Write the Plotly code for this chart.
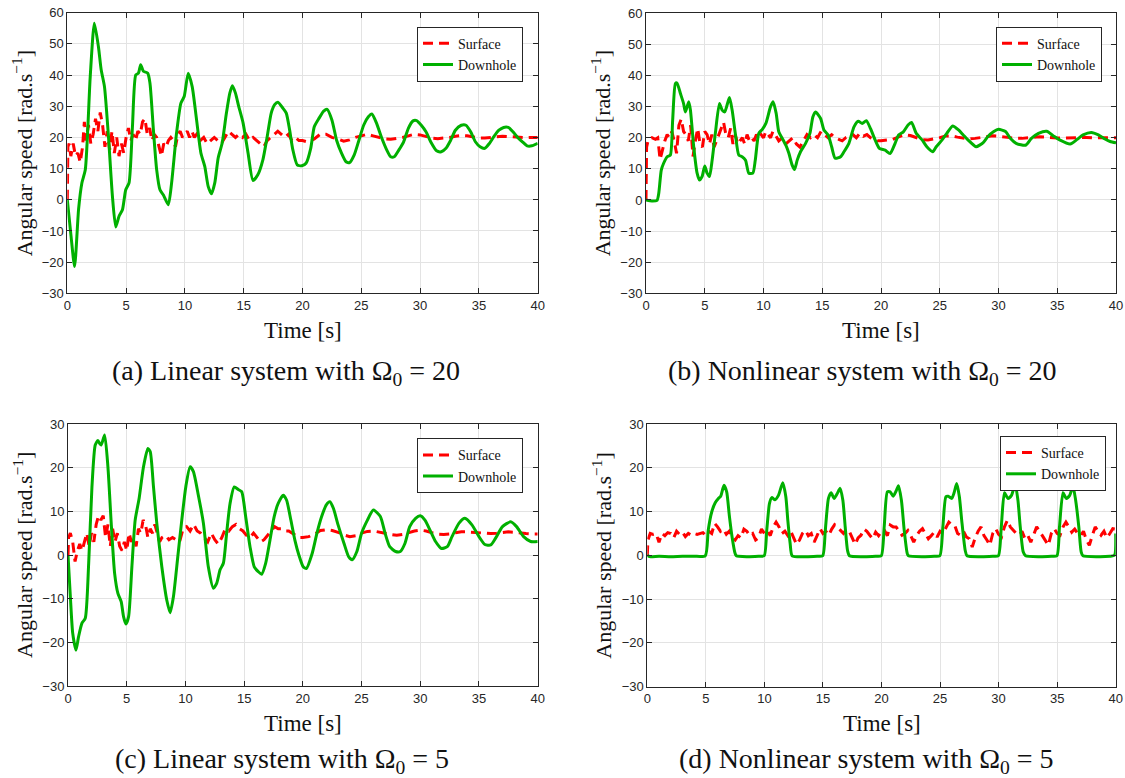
import plotly.graph_objects as go

# ---------------- data (time [s], angular speed [rad/s]) ----------------
a_surface = [(0, 0), (0.05, 17), (0.15, 18), (0.3, 14), (0.5, 18), (0.7, 14), (0.9, 15), (1.1, 12), (1.3, 17),
             (1.45, 25), (1.6, 19), (1.8, 24), (2.0, 18), (2.2, 21), (2.4, 26), (2.6, 22), (2.8, 28), (3.0, 24),
             (3.2, 17), (3.4, 22), (3.6, 16), (3.8, 22), (4.0, 15), (4.2, 20), (4.4, 14), (4.6, 18), (4.8, 15),
             (5.0, 20), (5.2, 23), (5.4, 19), (5.6, 21), (5.8, 19), (6.0, 22), (6.2, 21), (6.4, 25), (6.6, 26),
             (6.8, 21), (7.0, 23), (7.2, 19), (7.4, 21), (7.6, 20), (7.8, 17), (8.0, 14), (8.2, 18), (8.4, 17),
             (8.6, 19), (8.8, 20), (9.0, 19), (9.2, 17), (9.4, 21), (9.6, 22), (9.8, 20), (10.0, 21), (10.2, 22),
             (10.4, 20), (10.6, 22), (10.8, 20), (11.0, 21), (11.3, 19), (11.6, 20), (11.9, 18), (12.2, 19),
             (12.5, 20), (12.8, 19), (13.1, 18), (13.4, 20), (13.7, 22), (14.0, 21), (14.3, 20), (14.6, 21),
             (14.9, 20), (15.2, 21), (15.5, 19), (15.8, 20), (16.1, 19), (16.4, 18), (16.7, 17), (17.0, 19),
             (17.3, 20), (17.6, 21), (17.9, 22), (18.2, 21), (18.5, 20), (18.8, 21), (19.1, 19), (19.4, 20),
             (19.7, 19), (20.0, 19), (20.5, 18.5), (21, 19.5), (21.5, 21), (22, 21), (22.5, 20), (23, 19.5),
             (23.5, 18.8), (24, 19.2), (24.5, 20), (25, 20.5), (25.5, 21), (26, 20.5), (26.5, 20), (27, 19.5),
             (27.5, 19.4), (28, 19.6), (28.5, 20), (29, 20.5), (29.5, 21), (30, 20.8), (30.5, 20.3), (31, 19.8),
             (31.5, 19.6), (32, 19.7), (32.5, 20), (33, 20.4), (33.5, 20.6), (34, 20.5), (34.5, 20.1), (35, 19.8),
             (35.5, 19.8), (36, 19.9), (36.5, 20.2), (37, 20.4), (37.5, 20.3), (38, 20.1), (38.5, 19.9), (39, 19.9),
             (39.5, 20), (40, 20)]

a_downhole = [(0, 0), (0.3, -11), (0.62, -21.4), (0.96, -3), (1.24, 5.4), (1.53, 9.6), (1.95, 39.5), (2.3, 56.6),
              (2.65, 49), (2.88, 41.7), (3.16, 36.3), (3.5, 20.3), (3.84, 1), (4.12, -8.7), (4.4, -5.3),
              (4.69, -3.2), (4.97, 3.2), (5.25, 5.4), (5.54, 23.5), (5.82, 40), (6.05, 40.6), (6.24, 43.3),
              (6.47, 41.2), (6.84, 40.6), (7.03, 37.4), (7.32, 22.5), (7.6, 9.6), (7.88, 3.2), (8.16, 1.6),
              (8.59, -1.6), (8.87, 5.4), (9.29, 21.4), (9.66, 31), (9.94, 33.1), (10.28, 40.6), (10.62, 36.3),
              (10.99, 25.7), (11.36, 15), (11.69, 10.7), (11.98, 4.3), (12.26, 1.9), (12.54, 5.4), (12.83, 13.4),
              (13.17, 18.2), (13.53, 27.8), (13.82, 34.2), (14.04, 36.6), (14.3, 34.2), (14.58, 29.9),
              (14.95, 24.6), (15.37, 15), (15.79, 6.2), (16.2, 8), (16.63, 12.8), (17.0, 20.3), (17.34, 27.8),
              (17.63, 30.5), (17.91, 31.3), (18.33, 29.4), (18.62, 27.8), (18.9, 22.5), (19.18, 16), (19.55, 11.2),
              (19.94, 10.9), (20.3, 11.7), (20.7, 16.5), (21.0, 23.4), (21.4, 26.1), (21.8, 28.4), (22.1, 29),
              (22.5, 25.6), (22.9, 19.1), (23.3, 15.1), (23.7, 12.2), (24.0, 11.9), (24.4, 14.4), (24.8, 19.1),
              (25.2, 23.9), (25.6, 26.6), (25.9, 27.5), (26.3, 24.5), (26.7, 20.2), (27.1, 16.5), (27.5, 13.8),
              (27.8, 13.8), (28.2, 16), (28.6, 18.6), (29.0, 22.9), (29.4, 25.3), (29.7, 25.4), (30.1, 23.9),
              (30.5, 21.8), (30.9, 18.6), (31.4, 15.7), (31.8, 15.4), (32.2, 16.5), (32.6, 19.1), (33.0, 22.3),
              (33.5, 23.9), (33.9, 23.9), (34.3, 21.8), (34.7, 18.6), (35.1, 17), (35.5, 16.5), (35.9, 18.1),
              (36.3, 20.4), (36.7, 22.3), (37.1, 23.2), (37.5, 23.2), (37.9, 21.8), (38.3, 20), (38.7, 18.6),
              (39.1, 17.3), (39.5, 17.3), (40, 18.1)]

b_surface = [(0, 0), (0.05, 17), (0.2, 19.5), (0.5, 20), (0.8, 19.5), (1.0, 20), (1.2, 13), (1.4, 16), (1.6, 19),
             (1.8, 21), (2.0, 20), (2.2, 22), (2.4, 19), (2.6, 15), (2.8, 24), (3.0, 26), (3.2, 22), (3.4, 21),
             (3.6, 19), (3.8, 24), (4.0, 14), (4.2, 19), (4.4, 23), (4.6, 18), (4.8, 17), (5.0, 22), (5.2, 21),
             (5.4, 18), (5.6, 21), (5.8, 17), (6.0, 19), (6.2, 21), (6.4, 23), (6.6, 25), (6.8, 21), (7.0, 20),
             (7.2, 23), (7.4, 18), (7.6, 21), (7.8, 18), (8.0, 19), (8.2, 20), (8.4, 18), (8.6, 21), (8.8, 19),
             (9.0, 20), (9.2, 19), (9.4, 21), (9.6, 20), (9.8, 21), (10.0, 20), (10.2, 22), (10.4, 21), (10.6, 20),
             (10.8, 22), (11.0, 21), (11.3, 19), (11.6, 20), (11.9, 18), (12.2, 19), (12.5, 20), (12.8, 18),
             (13.1, 17), (13.4, 19), (13.7, 21), (14.0, 20), (14.3, 21), (14.6, 20), (14.9, 22), (15.2, 21),
             (15.5, 20), (15.8, 21), (16.1, 20), (16.4, 19.5), (16.7, 19), (17.0, 20), (17.3, 20.5), (17.6, 21),
             (17.9, 20), (18.2, 21.5), (18.5, 20.5), (18.8, 21), (19.1, 20), (19.4, 19.5), (19.7, 19), (20.0, 19),
             (20.5, 19.2), (21, 19.5), (21.5, 20.3), (22, 21), (22.5, 20.7), (23, 20), (23.5, 19.4), (24, 19.3),
             (24.5, 19.6), (25, 20), (25.5, 20.6), (26, 20.6), (26.5, 20.2), (27, 19.8), (27.5, 19.6), (28, 19.8),
             (28.5, 20), (29, 20.3), (29.5, 20.6), (30, 20.5), (30.5, 20.2), (31, 19.9), (31.5, 19.8), (32, 19.8),
             (32.5, 20), (33, 20.2), (33.5, 20.3), (34, 20.2), (34.5, 20), (35, 19.9), (35.5, 19.9), (36, 20),
             (36.5, 20.1), (37, 20.1), (37.5, 20.1), (38, 20), (38.5, 20), (39, 20), (39.5, 20), (40, 20)]

b_downhole = [(0, 0), (0.5, -0.3), (0.94, -0.1), (1.08, 2), (1.3, 9.6), (1.5, 11.8), (1.8, 13.9), (2.07, 14.4),
              (2.27, 25.7), (2.5, 37.4), (2.64, 37.6), (2.93, 34.2), (3.2, 31), (3.35, 28.3), (3.64, 31.6),
              (3.78, 28.9), (4.06, 17.1), (4.35, 8.6), (4.55, 6.4), (4.77, 7.5), (5.0, 10.9), (5.2, 8.6),
              (5.4, 7.5), (5.63, 12.8), (5.9, 21.4), (6.25, 31), (6.48, 28.9), (6.7, 28.3), (7.1, 32.9),
              (7.33, 28.9), (7.6, 21.4), (7.9, 14.4), (8.18, 13.9), (8.47, 12.8), (8.75, 8.6), (9.09, 8.6),
              (9.3, 12.8), (9.6, 21.4), (9.9, 22.7), (10.2, 24.6), (10.6, 30), (10.82, 31.6), (11.08, 27.8),
              (11.3, 21.9), (11.6, 19.8), (11.9, 17.6), (12.16, 15), (12.44, 11.2), (12.64, 9.8), (12.87, 12.8),
              (13.15, 15.5), (13.58, 18.2), (13.95, 21.4), (14.2, 26.7), (14.43, 28.3), (14.86, 26.2),
              (15.14, 22.5), (15.5, 20.9), (15.8, 17.1), (16.1, 13.4), (16.56, 13.9), (16.85, 15.5),
              (17.27, 18.2), (17.7, 23.5), (18.07, 25.3), (18.4, 24.6), (18.75, 25.5), (19.1, 23), (19.5, 19.3),
              (19.86, 16.6), (20.35, 16), (20.77, 14.9), (21.2, 18.2), (21.5, 20.9), (21.9, 21.9), (22.3, 24.1),
              (22.6, 24.9), (23.0, 21.4), (23.5, 19.3), (23.9, 17.1), (24.4, 15.5), (24.7, 17.1), (25.2, 19.3),
              (25.6, 21.4), (26.1, 23.8), (26.6, 22.5), (27.0, 20.9), (27.4, 19.3), (27.9, 17.6), (28.1, 17.1),
              (28.7, 18.4), (29.1, 20.4), (29.6, 22), (30.0, 22.7), (30.6, 22), (31.0, 19.8), (31.5, 18.2),
              (32.3, 17.6), (32.8, 19.8), (33.4, 21.4), (34.1, 22.1), (34.7, 20.5), (35.2, 19.3), (36.1, 18),
              (36.7, 19.5), (37.2, 20.9), (37.9, 21.7), (38.5, 20.9), (39.1, 19.5), (39.5, 18.8), (40, 18.4)]

c_surface = [(0, 0), (0.05, 4), (0.2, 5), (0.4, 3), (0.6, -1.5), (0.8, 1), (1.0, 2.5), (1.2, 1), (1.4, 3),
             (1.6, 5), (1.8, 2), (2.0, 5), (2.2, 3), (2.4, 7), (2.6, 9), (2.8, 8), (3.0, 9), (3.2, 4), (3.4, 7),
             (3.6, 2), (3.8, 6), (4.0, 3), (4.2, 5), (4.4, 2), (4.6, 1), (4.8, 3), (5.0, 1), (5.2, 5), (5.4, 3),
             (5.6, 4), (5.8, 2), (6.0, 6), (6.2, 5), (6.4, 8), (6.6, 7), (6.8, 4), (7.0, 6), (7.2, 5), (7.4, 7),
             (7.6, 5), (7.8, 3), (8.0, 4), (8.3, 4.5), (8.6, 3.5), (8.9, 4), (9.2, 3.5), (9.5, 3), (9.8, 6),
             (10.1, 6.5), (10.4, 5.5), (10.7, 7), (11.0, 5.5), (11.3, 5), (11.6, 4), (11.9, 3), (12.2, 5),
             (12.5, 3.5), (12.8, 2.5), (13.1, 4), (13.4, 6), (13.7, 5.5), (14.0, 6.5), (14.3, 7), (14.6, 6),
             (14.9, 5.5), (15.2, 4.5), (15.5, 4), (15.8, 5), (16.1, 4), (16.4, 3), (16.7, 3.5), (17.0, 4.5),
             (17.3, 5.5), (17.6, 6.5), (17.9, 6), (18.2, 6), (18.5, 5.5), (18.8, 5.5), (19.1, 5), (19.4, 4.5),
             (19.7, 4), (20, 4), (20.5, 4.2), (21, 4.8), (21.5, 5.6), (22, 5.8), (22.5, 5.6), (23, 5.2), (23.5, 4.6),
             (24, 4.2), (24.5, 4.4), (25, 5), (25.5, 5.4), (26, 5.5), (26.5, 5.3), (27, 5), (27.5, 4.7), (28, 4.5),
             (28.5, 4.7), (29, 5.1), (29.5, 5.5), (30, 5.7), (30.5, 5.5), (31, 5.1), (31.5, 4.8), (32, 4.7),
             (32.5, 4.8), (33, 5.1), (33.5, 5.3), (34, 5.3), (34.5, 5.2), (35, 5), (35.5, 4.9), (36, 4.9), (36.5, 5),
             (37, 5.2), (37.5, 5.3), (38, 5.2), (38.5, 5), (39, 4.9), (39.5, 4.8), (40, 4.8)]

c_downhole = [(0, 0), (0.2, -9.5), (0.4, -17.9), (0.68, -21.8), (0.9, -18.7), (1.19, -15.6), (1.47, -14.5),
              (1.76, -1.9), (2.04, 15.6), (2.32, 25.2), (2.55, 26.2), (2.7, 25.5), (2.83, 25.2), (3.12, 27.5),
              (3.4, 20.2), (3.68, 7.3), (3.97, -4.2), (4.25, -8.8), (4.53, -10.7), (4.73, -14.1), (4.93, -15.8),
              (5.16, -14.1), (5.44, -2.7), (5.72, 8), (6.06, 13), (6.43, 20.2), (6.8, 24.4), (7.0, 23.7),
              (7.28, 15.6), (7.56, 7.3), (7.99, -2.7), (8.41, -10.3), (8.7, -13.2), (8.98, -9.5), (9.35, -0.4),
              (9.69, 8), (10.03, 15.6), (10.4, 20.2), (10.68, 19.1), (11.1, 13.7), (11.53, 7.3), (11.95, -2.7),
              (12.38, -7.6), (12.66, -6.5), (12.95, -3.4), (13.23, -1.9), (13.51, 5), (13.8, 11.8), (14.16, 15.6),
              (14.5, 15), (14.79, 14.5), (15.13, 8.8), (15.5, 1.9), (15.86, -2.7), (16.2, -3.8), (16.49, -4.4),
              (16.83, -1.9), (17.2, 3.4), (17.56, 8.8), (17.9, 11.8), (18.33, 13.7), (18.61, 12.6), (18.98, 8),
              (19.32, 3.4), (19.66, 0), (20.03, -2.7), (20.3, -3.1), (20.8, 0.4), (21.2, 5), (21.6, 8.8),
              (22.0, 11.5), (22.3, 12.2), (22.6, 10.7), (23.0, 6.9), (23.5, 2.7), (23.9, -0.4), (24.2, -1.1),
              (24.6, 0.8), (25.0, 5), (25.5, 8), (26.0, 10.3), (26.6, 8.8), (27.0, 5), (27.4, 1.9), (27.9, 0.8),
              (28.3, 0.8), (28.7, 2.7), (29.1, 6.5), (29.6, 8.4), (30.0, 9), (30.4, 8), (30.9, 5.3), (31.3, 3.1),
              (31.8, 1.5), (32.3, 1.9), (32.7, 4.2), (33.3, 7.3), (33.8, 8.4), (34.4, 6.9), (35.0, 4.2),
              (35.5, 2.4), (36.0, 2.3), (36.4, 3.8), (37.0, 6.5), (37.7, 7.6), (38.2, 6.5), (38.8, 4.2),
              (39.4, 3.1), (40, 3.1)]

d_surface = [(0, 0), (0.05, 3.5), (0.25, 5), (0.5, 4.8), (0.75, 5), (1.0, 3), (1.25, 5), (1.5, 4.5), (1.75, 5.2),
             (2.0, 5), (2.25, 4), (2.5, 5.5), (2.75, 4.8), (3.0, 5.3), (3.25, 4.3), (3.5, 5), (3.75, 4.6), (4.0, 5),
             (4.25, 4.8), (4.5, 5), (4.75, 5.2), (5.0, 4.5), (5.25, 5.5), (5.5, 5), (5.75, 7.3), (6.0, 6.5),
             (6.25, 5.5), (6.5, 6), (6.75, 4.8), (7.0, 5.5), (7.25, 4), (7.5, 3.5), (7.75, 4.5), (8.0, 4), (8.25, 6),
             (8.5, 5.5), (8.75, 4.5), (9.0, 5), (9.25, 3.5), (9.5, 4), (9.75, 6), (10.0, 5), (10.25, 5.7),
             (10.5, 4.5), (10.75, 6.5), (11.0, 7.6), (11.25, 6.5), (11.5, 5), (11.75, 5.5), (12.0, 4.5),
             (12.25, 5.5), (12.5, 4), (12.75, 2.5), (13.0, 3.5), (13.25, 5), (13.5, 5.7), (13.75, 4.5), (14.0, 5),
             (14.25, 3), (14.5, 4.5), (14.75, 6.1), (15.0, 5), (15.25, 5.5), (15.5, 4.6), (15.75, 6), (16.0, 7),
             (16.25, 6.5), (16.5, 5.7), (16.75, 5), (17.0, 6), (17.25, 5.5), (17.5, 4), (17.75, 2.5), (18.0, 4),
             (18.25, 4.6), (18.5, 6), (18.75, 5.5), (19.0, 4.6), (19.25, 3.8), (19.5, 5.3), (19.75, 4.5),
             (20.0, 5.5), (20.25, 5.7), (20.5, 4.5), (20.75, 6.9), (21.0, 6.5), (21.25, 6.5), (21.5, 5.5),
             (21.75, 4.6), (22.0, 5), (22.25, 5.7), (22.5, 4.5), (22.75, 3), (23.0, 4.5), (23.25, 5.5), (23.5, 6.1),
             (23.75, 5), (24.0, 3.8), (24.25, 4.5), (24.5, 5.3), (24.75, 4.2), (25.0, 5.5), (25.25, 5), (25.5, 6.5),
             (25.75, 7.6), (26.0, 7), (26.25, 6.9), (26.5, 5), (26.75, 4.6), (27.0, 5.5), (27.25, 4.2), (27.5, 3.8),
             (27.75, 1.9), (28.0, 4), (28.25, 5.5), (28.5, 6.5), (28.75, 4.5), (29.0, 3.5), (29.25, 2.3), (29.5, 5),
             (29.75, 6.1), (30.0, 4.8), (30.25, 4.2), (30.5, 6.5), (30.75, 8), (31.0, 6.5), (31.25, 5.7), (31.5, 5),
             (31.75, 4.6), (32.0, 5.5), (32.25, 3.8), (32.5, 4.5), (32.75, 3), (33.0, 5), (33.25, 6.5), (33.5, 5.5),
             (33.75, 4.5), (34.0, 3.5), (34.25, 2.3), (34.5, 5), (34.75, 6.1), (35.0, 5), (35.25, 4.6), (35.5, 6.5),
             (35.75, 7.6), (36.0, 6.5), (36.25, 5.3), (36.5, 6), (36.75, 5), (37.0, 4.5), (37.25, 5.5), (37.5, 3.5),
             (37.75, 2.3), (38.0, 4.5), (38.25, 6.5), (38.5, 5.5), (38.75, 4.6), (39.0, 5.5), (39.25, 4), (39.5, 5),
             (39.75, 6.1), (40.0, 6)]

d_downhole = [(0, 0), (0.2, -0.3), (1, -0.2), (2, -0.3), (3, -0.2), (4, -0.2), (4.95, -0.1), (5.2, 5.7), (5.5, 9.9),
              (5.8, 12), (6.07, 13), (6.27, 13.5), (6.55, 16), (6.78, 14.5), (7.0, 9.2), (7.24, 4.2), (7.5, 0.4),
              (7.6, -0.1), (8.5, -0.3), (9.5, -0.2), (9.98, -0.1), (10.2, 5.7), (10.43, 11.8), (10.63, 13.2),
              (10.9, 12.7), (11.2, 13.7), (11.57, 16.6), (11.83, 13.4), (12.0, 8), (12.2, 2.7), (12.37, -0.1),
              (13.5, -0.3), (14.5, -0.2), (14.98, -0.1), (15.2, 5.7), (15.47, 13), (15.7, 14.3), (15.95, 13),
              (16.2, 14), (16.47, 15.3), (16.7, 12.6), (16.9, 6.5), (17.1, 1.1), (17.26, -0.1), (18.5, -0.3),
              (19.5, -0.2), (19.98, -0.1), (20.23, 6.5), (20.5, 14.5), (20.74, 14.5), (21.0, 13.5), (21.25, 14.7),
              (21.45, 15.9), (21.7, 12.6), (21.94, 5.7), (22.2, 0.4), (22.3, -0.1), (23.5, -0.3), (24.5, -0.2),
              (24.98, -0.1), (25.24, 6.5), (25.5, 13.4), (25.7, 13.5), (26.0, 13), (26.2, 14.3), (26.42, 16.4),
              (26.65, 13.4), (26.85, 8), (27.15, 1.1), (27.3, -0.1), (28.5, -0.3), (29.5, -0.2), (29.98, -0.1),
              (30.23, 6.5), (30.5, 14.3), (30.8, 13), (31.1, 13.7), (31.42, 16.2), (31.65, 12.6), (31.85, 6.5),
              (32.1, 0.8), (32.3, -0.1), (33.5, -0.3), (34.5, -0.2), (34.98, -0.1), (35.2, 6.5), (35.5, 14.3),
              (35.78, 13), (36.07, 13.7), (36.35, 15.8), (36.58, 12.6), (36.85, 6.5), (37.05, 0.8), (37.2, -0.1),
              (38.5, -0.3), (39.5, -0.2), (39.9, 0), (40, 5)]

captions = ["(a) Linear system with Ω<sub>0</sub> = 20", "(b) Nonlinear system with Ω<sub>0</sub> = 20",
            "(c) Linear system with Ω<sub>0</sub> = 5", "(d) Nonlinear system with Ω<sub>0</sub> = 5"]
y_ranges = [(-30, 60), (-30, 60), (-30, 30), (-30, 30)]
x_tick_vals = [0, 5, 10, 15, 20, 25, 30, 35, 40]

# ---------------- layout geometry (window pixels) ----------------
W, H = 1125, 778
panels = [  # left, right, top, bottom
    (67.3, 537.7, 12.7, 293.3),
    (646.0, 1116.0, 13.3, 293.3),
    (68.0, 537.7, 424.0, 686.0),
    (647.3, 1115.7, 424.0, 686.7),
]
legend_boxes = [(523, 26.7), (1102, 26.7), (523, 438.3), (1106, 436)]  # right, top
caption_pos = [(286, 372), (862, 372), (282, 760), (866, 760)]


def fx(px):
    return px / W


def fy(py):
    return 1 - py / H


RED = "#FF0000"
GREEN = "#00B000"
AXC = "#262626"
SERIF = "Liberation Serif, DejaVu Serif, serif"
SANS = "Liberation Sans, Arial, sans-serif"

series = [(a_surface, a_downhole), (b_surface, b_downhole), (c_surface, c_downhole), (d_surface, d_downhole)]

fig = go.Figure()
layout = dict(width=W, height=H, margin=dict(l=0, r=0, t=0, b=0, autoexpand=False), paper_bgcolor="white",
              plot_bgcolor="white", showlegend=True, annotations=[])

for i, ((surf, down), (l, r, t, b)) in enumerate(zip(series, panels)):
    k = "" if i == 0 else str(i + 1)
    leg = "legend" if i == 0 else f"legend{i + 1}"
    fig.add_trace(go.Scatter(x=[p[0] for p in surf], y=[p[1] for p in surf], mode="lines", name="Surface",
                             line=dict(color=RED, width=3, dash="10px,6px"), xaxis="x" + k, yaxis="y" + k,
                             legend=leg))
    fig.add_trace(go.Scatter(x=[p[0] for p in down], y=[p[1] for p in down], mode="lines", name="Downhole",
                             line=dict(color=GREEN, width=3, shape="spline", smoothing=0.6),
                             xaxis="x" + k, yaxis="y" + k, legend=leg))
    ax_common = dict(showline=True, linecolor=AXC, linewidth=1, mirror="ticks", ticks="inside", ticklen=5,
                     tickcolor=AXC, showgrid=True, gridcolor="#E3E3E3", gridwidth=1, zeroline=False,
                     automargin=False, ticklabeloverflow="allow",
                     tickfont=dict(family=SANS, size=13, color=AXC))
    layout["xaxis" + k] = dict(ax_common, domain=[fx(l), fx(r)], range=[0, 40], tickvals=x_tick_vals,
                               anchor="y" + k)
    y0, y1 = y_ranges[i]
    layout["yaxis" + k] = dict(ax_common, domain=[fy(b), fy(t)], range=[y0, y1], dtick=10, anchor="x" + k)
    lr, lt = legend_boxes[i]
    layout[leg] = dict(x=fx(lr), y=fy(lt), xanchor="right", yanchor="top", bgcolor="white",
                       bordercolor=AXC, borderwidth=1, font=dict(family=SERIF, size=14, color="#111"),
                       tracegroupgap=0, itemwidth=30)
    cx = (l + r) / 2
    layout["annotations"].append(dict(text="Time [s]", x=fx(cx), y=fy(b + 37), xref="paper", yref="paper",
                                      showarrow=False, font=dict(family=SERIF, size=23, color="#111"),
                                      xanchor="center", yanchor="middle"))
    layout["annotations"].append(dict(text="Angular speed [rad.s<sup>−1</sup>]", x=fx(l - 45),
                                      y=fy((t + b) / 2), xref="paper", yref="paper", textangle=-90,
                                      showarrow=False, font=dict(family=SERIF, size=22, color="#111"),
                                      xanchor="center", yanchor="middle"))
    cpx, cpy = caption_pos[i]
    layout["annotations"].append(dict(text=captions[i], x=fx(cpx), y=fy(cpy), xref="paper", yref="paper",
                                      showarrow=False, font=dict(family=SERIF, size=28, color="#111"),
                                      xanchor="center", yanchor="middle"))

fig.update_layout(**layout)
# remove the browser's default 8px body margin so the figure fills the window exactly
fig.write_html("out.html", config={"displayModeBar": False},
               post_script="document.body.style.margin='0';document.body.style.overflow='hidden';")
